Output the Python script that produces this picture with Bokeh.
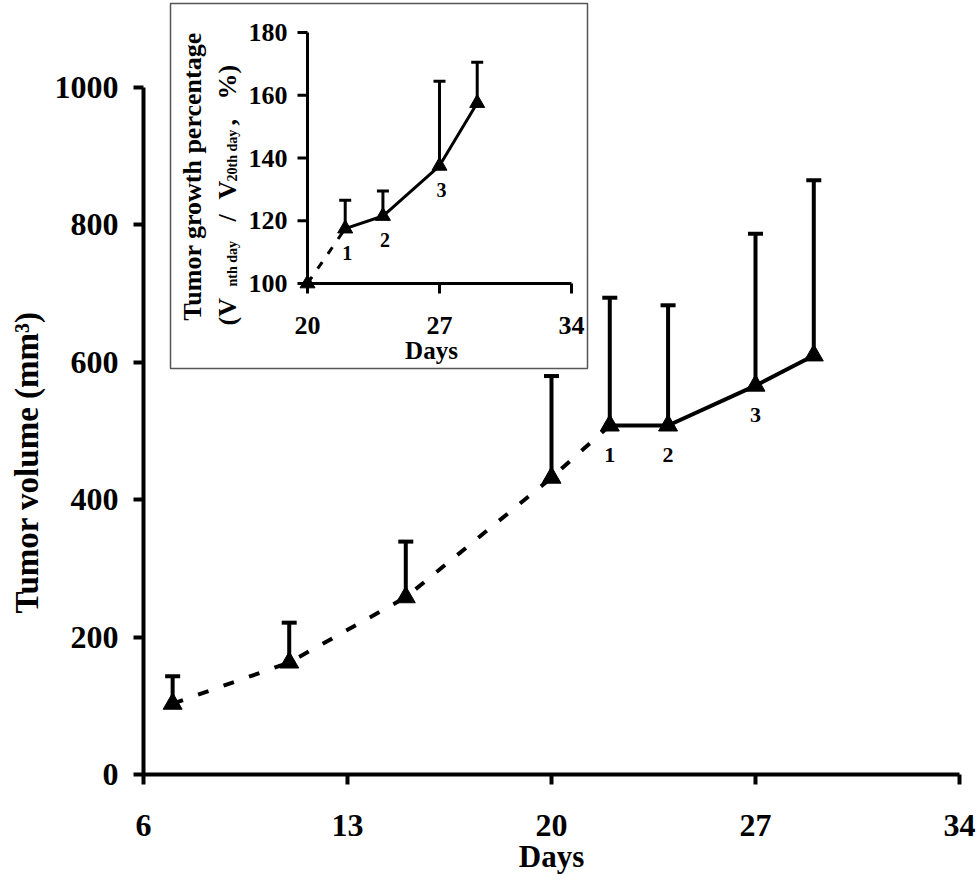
import math
from bokeh.plotting import figure
from bokeh.models import Range1d, FixedTicker, Title
from bokeh.core.properties import value
from bokeh.embed import file_html
from bokeh.resources import INLINE

# ---------------- data ----------------
days = [7, 11, 15, 20, 22, 24, 27, 29]
volume = [103, 163, 258, 432, 508, 508, 566, 610]
volume_sd = [40, 58, 81, 148, 186, 175, 221, 255]
n_dashed = 5                      # days 7..22 joined by a dashed line
label_idx = [4, 5, 6]             # points marked 1, 2, 3
point_labels = ["1", "2", "3"]

x_ticks = [6, 13, 20, 27, 34]
y_ticks = [0, 200, 400, 600, 800, 1000]

inset_days = [20, 22, 24, 27, 29]
growth = [100, 117.5, 121.5, 137.5, 157.5]
growth_sd = [0, 9, 8, 27, 13]
inset_label_idx = [1, 2, 3]
inset_x_ticks = [20, 27, 34]
inset_y_ticks = [100, 120, 140, 160, 180]

# ---------------- layout constants ----------------
W, H = 978, 883
BL, BR, BT, BB = 143, 19, 0, 109
FW, FH = W - BL - BR, H - BT - BB
X0, X1 = 6, 34
PX_PER_UNIT_Y = 0.687
Y_END = FH / PX_PER_UNIT_Y

FONT = "Liberation Serif"


def xd(px):  # figure pixel -> main data x
    return X0 + (px - BL) * (X1 - X0) / FW


def yd(py):  # figure pixel (from top) -> main data y
    return (BT + FH - py) / PX_PER_UNIT_Y


p = figure(width=W, height=H, x_range=Range1d(X0, X1), y_range=Range1d(0, Y_END),
           output_backend="svg", toolbar_location=None,
           min_border_left=BL, min_border_right=BR, min_border_top=BT, min_border_bottom=BB)
p.outline_line_color = None
p.xgrid.visible = False
p.ygrid.visible = False
p.background_fill_color = "white"

for ax in (p.xaxis[0], p.yaxis[0]):
    ax.axis_line_width = 4
    ax.axis_line_color = "black"
    ax.major_tick_line_width = 4
    ax.major_tick_line_color = "black"
    ax.major_tick_out = 10
    ax.major_tick_in = 0
    ax.minor_tick_line_color = None
    ax.major_label_text_font = FONT
    ax.major_label_text_font_style = "bold"
    ax.major_label_text_font_size = "32px"
    ax.major_label_text_color = "black"

p.xaxis.ticker = FixedTicker(ticks=x_ticks)
p.yaxis.ticker = FixedTicker(ticks=y_ticks)
p.yaxis.bounds = (y_ticks[0], y_ticks[-1])
p.xaxis.bounds = (x_ticks[0], x_ticks[-1])
p.xaxis.major_label_standoff = 30
p.yaxis.major_label_standoff = 15
p.xaxis.axis_label = "Days"
p.xaxis.axis_label_text_font = FONT
p.xaxis.axis_label_text_font_style = "bold"
p.xaxis.axis_label_text_font_size = "31px"
p.xaxis.axis_label_text_color = "black"
p.xaxis.axis_label_standoff = 0

p.add_layout(Title(text="Tumor volume (mm³)", align="left", offset=161, vertical_align="top",
                   text_font=FONT, text_font_style="bold", text_font_size="33px",
                   text_color="black", standoff=10), "left")

# ---------------- main series ----------------
p.line(days[:n_dashed], volume[:n_dashed], line_width=4, color="black", line_dash="11 16")
p.line(days[n_dashed - 1:], volume[n_dashed - 1:], line_width=4, color="black")
tops = [v + s for v, s in zip(volume, volume_sd)]
p.segment(x0=days, y0=volume, x1=days, y1=tops, line_width=4, color="black")
p.scatter(days, tops, marker="dash", size=15, line_width=4, color="black")
p.scatter(days, volume, marker="triangle", size=19, color="black")
p.text(x=[days[i] for i in label_idx], y=[volume[i] for i in label_idx], text=point_labels,
       y_offset=29, text_align="center", text_baseline="middle",
       text_font=value(FONT), text_font_style="bold", text_font_size="22px", text_color="black")

# ---------------- inset ----------------
p.quad(left=xd(170), right=xd(587), top=yd(3), bottom=yd(368),
       fill_color="white", line_color="#555555", line_width=1.5)

ins = p.subplot(x_source=Range1d(inset_x_ticks[0], inset_x_ticks[-1]),
                y_source=Range1d(inset_y_ticks[0], inset_y_ticks[-1]),
                x_target=Range1d(xd(307), xd(571)),
                y_target=Range1d(yd(283), yd(32)))

ox, oy = inset_x_ticks[0], inset_y_ticks[0]
ins.segment(x0=[ox, ox], y0=[oy, oy], x1=[inset_x_ticks[-1], ox], y1=[oy, inset_y_ticks[-1]],
            line_width=3, color="black")
ins.ray(x=inset_x_ticks, y=[oy] * len(inset_x_ticks), length=10, length_units="screen",
        angle=-math.pi / 2, line_width=3, color="black")
ins.ray(x=[ox] * len(inset_y_ticks), y=inset_y_ticks, length=10, length_units="screen",
        angle=math.pi, line_width=3, color="black")
ins.text(x=inset_x_ticks, y=[oy] * len(inset_x_ticks), text=[str(t) for t in inset_x_ticks],
         y_offset=42, text_align="center", text_baseline="middle",
         text_font=value(FONT), text_font_style="bold", text_font_size="26px", text_color="black")
ins.text(x=[ox] * len(inset_y_ticks), y=inset_y_ticks, text=[str(t) for t in inset_y_ticks],
         x_offset=-20, text_align="right", text_baseline="middle",
         text_font=value(FONT), text_font_style="bold", text_font_size="26px", text_color="black")
ins.text(x=[(inset_x_ticks[0] + inset_x_ticks[-1]) / 2], y=[oy], text=["Days"],
         x_offset=-8, y_offset=67, text_align="center", text_baseline="middle",
         text_font=value(FONT), text_font_style="bold", text_font_size="25px", text_color="black")

# inset y-axis title (two lines, with subscripts)
ins.text(x=[ox], y=[oy], text=["Tumor growth percentage"], x_offset=-115, y_offset=-107,
         angle=math.pi / 2, text_align="center", text_baseline="middle",
         text_font=value(FONT), text_font_style="bold", text_font_size="26px", text_color="black")
pieces = [("(V", 26, -80, 42), ("nth day", 14, -75, 3), ("/", 26, -80, -62),
          ("V", 26, -80, -84), ("20th day", 14, -75, -102), (",", 26, -80, -158),
          ("%)", 26, -80, -184)]
for txt, fs, xo, yo in pieces:
    ins.text(x=[ox], y=[oy], text=[txt], x_offset=xo, y_offset=yo, angle=math.pi / 2,
             text_align="left", text_baseline="middle",
             text_font=value(FONT), text_font_style="bold", text_font_size=f"{fs}px",
             text_color="black")

# inset series
ins.line(inset_days[:2], growth[:2], line_width=3, color="black", line_dash="8 10")
ins.line(inset_days[1:], growth[1:], line_width=3, color="black")
ebx = [d for d, s in zip(inset_days, growth_sd) if s > 0]
eby = [g for g, s in zip(growth, growth_sd) if s > 0]
ebt = [g + s for g, s in zip(growth, growth_sd) if s > 0]
ins.segment(x0=ebx, y0=eby, x1=ebx, y1=ebt, line_width=3, color="black")
ins.scatter(ebx, ebt, marker="dash", size=12, line_width=3, color="black")
ins.scatter(inset_days, growth, marker="triangle", size=15, color="black")
ins.text(x=[inset_days[i] for i in inset_label_idx], y=[growth[i] for i in inset_label_idx],
         text=point_labels, x_offset=2, y_offset=24, text_align="center", text_baseline="middle",
         text_font=value(FONT), text_font_style="bold", text_font_size="20px", text_color="black")

open("out.html", "w").write(file_html(p, INLINE))
